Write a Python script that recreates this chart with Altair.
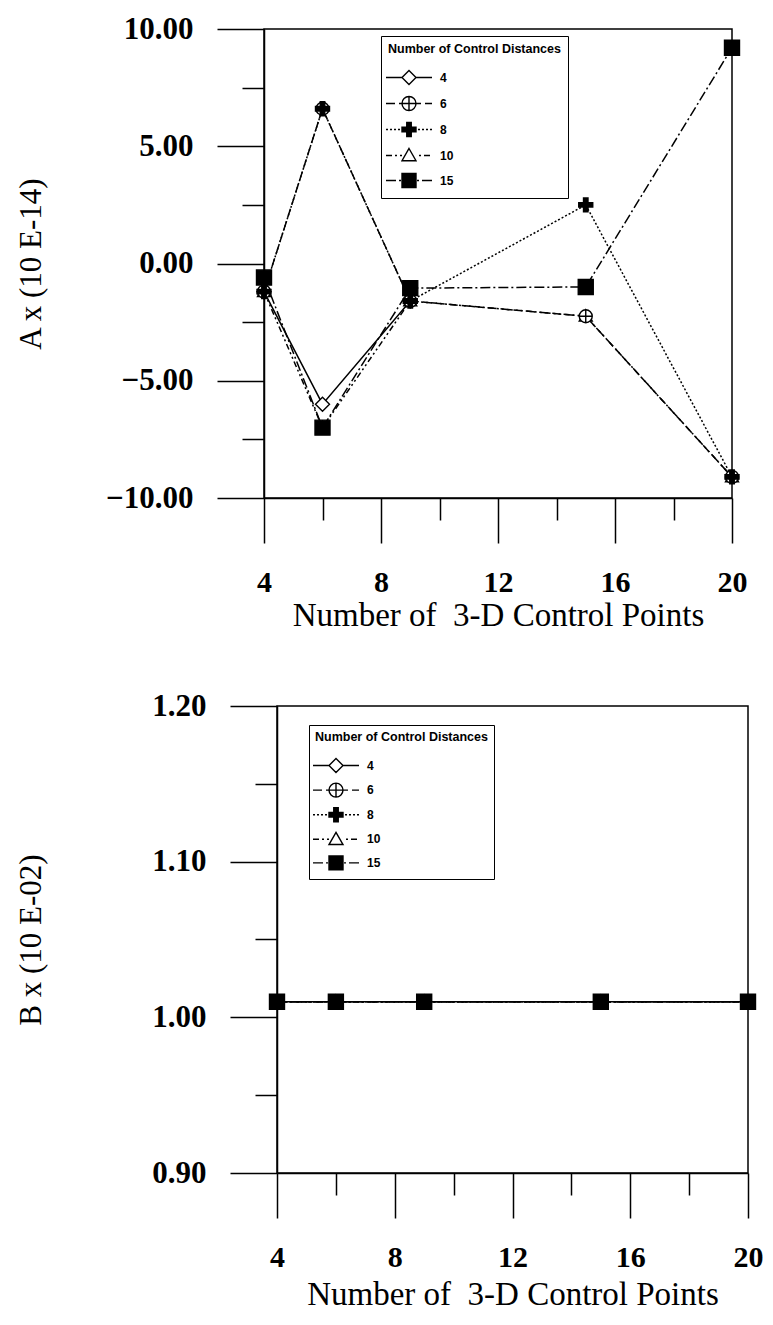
import altair as alt
import pandas as pd

# Number of 3-D control points used for each estimate
control_points = [4, 6, 9, 15, 20]

# Number of control distances: one series each
distance_sets = ["4", "6", "8", "10", "15"]

# Coefficient A (x 10E-14); None where no estimate is plotted
a_dist_4 = [-1.2, -6.0, -1.6, None, None]
a_dist_6 = [-1.2, 6.6, -1.6, -2.25, -9.1]
a_dist_8 = [-1.2, 6.6, -1.6, 2.5, -9.1]
a_dist_10 = [-1.2, -7.0, -1.6, -2.25, -9.1]
a_dist_15 = [-0.6, -7.0, -1.05, -1.0, 9.2]

# Coefficient B (x 10E-02)
b_dist_4 = [1.01, 1.01, 1.01, 1.01, 1.01]
b_dist_6 = [1.01, 1.01, 1.01, 1.01, 1.01]
b_dist_8 = [1.01, 1.01, 1.01, 1.01, 1.01]
b_dist_10 = [1.01, 1.01, 1.01, 1.01, 1.01]
b_dist_15 = [1.01, 1.01, 1.01, 1.01, 1.01]

# Axis ticks
x_ticks = [4, 6, 8, 10, 12, 14, 16, 18, 20]
a_ticks = [-10.0, -7.5, -5.0, -2.5, 0.0, 2.5, 5.0, 7.5, 10.0]
b_ticks = [0.90, 0.95, 1.00, 1.05, 1.10, 1.15, 1.20]

LEGEND_TITLE = "Number of Control Distances"
X_TITLE = "Number of\u00a0 3-D Control Points"


def long_table(columns):
    rows = []
    for name, values in zip(distance_sets, columns):
        for x, v in zip(control_points, values):
            if v is not None:
                rows.append({"points": x, "value": v, "distances": name})
    return pd.DataFrame(rows)


a_table = long_table([a_dist_4, a_dist_6, a_dist_8, a_dist_10, a_dist_15])
b_table = long_table([b_dist_4, b_dist_6, b_dist_8, b_dist_10, b_dist_15])

# ---- marker and line styles -------------------------------------------
DIAMOND = "M0,-1L1,0L0,1L-1,0Z"
CIRCLE_CROSS = "M1,0A1,1,0,1,1,-1,0A1,1,0,1,1,1,0Z M-1,0H1 M0,-1V1"
PLUS = "M-0.32,-1H0.32V-0.32H1V0.32H0.32V1H-0.32V0.32H-1V-0.32H-0.32Z"
TRIANGLE = "M0,-1L1,0.75L-1,0.75Z"
SQUARE = "M-1,-1H1V1H-1Z"

MARKER = {"4": DIAMOND, "6": CIRCLE_CROSS, "8": PLUS, "10": TRIANGLE, "15": SQUARE}
FILL = {"4": "white", "6": "white", "8": "black", "10": "white", "15": "black"}
SIZE = {"4": 196, "6": 169, "8": 196, "10": 169, "15": 225}
DASH = {"4": None, "6": [9, 4], "8": [2, 2], "10": [6, 3, 2, 3, 2, 3], "15": [10, 3, 2, 3]}
DRAW_ORDER = ["10", "4", "6", "8", "15"]


def legend_symbol(name, unit=7.0, half_len=23.0):
    """Marker path with a short (dashed) line through it, in marker units."""
    pattern = DASH[name] or [2 * half_len]
    parts = []
    pos, i = -half_len, 0
    while pos < half_len:
        seg = pattern[i % len(pattern)]
        if i % 2 == 0:
            a, b = pos, min(pos + seg, half_len)
            for lo, hi in ((a, min(b, -unit)), (max(a, unit), b)):
                if hi - lo > 0.3:
                    parts.append(f"M{lo / unit:.3f},0H{hi / unit:.3f}")
        pos += seg
        i += 1
    return " ".join(parts) + " " + MARKER[name]


LEGEND_PATHS = [legend_symbol(n) for n in distance_sets]
LEGEND_FILLS = [FILL[n] for n in distance_sets]
LEGEND_STROKES = ["black" for _ in distance_sets]

SERIF = "Liberation Serif"
SANS = "Liberation Sans"
KEY_CHANNELS = dict(shape="independent", fill="independent", stroke="independent")


def panel(table, y_title, y_ticks, y_major, title_x, x_shift,
          legend_x, legend_y, legend_pad, legend_rows, width, height, x_title_y):
    y_domain = [y_ticks[0], y_ticks[-1]]
    x_scale = alt.Scale(domain=[x_ticks[0], x_ticks[-1]], range=[x_shift, x_shift + width],
                        nice=False, zero=False)
    y_scale = alt.Scale(domain=y_domain, nice=False, zero=False)
    x_axis = alt.Axis(
        values=x_ticks,
        title=X_TITLE,
        labelExpr="datum.value % 4 == 0 ? datum.label : ''",
        tickSize={"condition": {"test": "datum.value % 4 == 0", "value": 45}, "value": 22},
        labelPadding=24,
        labelFontSize=30,
        labelFlush=False,
        labelOverlap=False,
        titleFontSize=33,
        titleY=x_title_y,
        titleBaseline="middle",
    )
    y_axis = alt.Axis(
        values=y_ticks,
        format=".2f",
        title=y_title,
        labelExpr=f"{y_major} ? datum.label : ''",
        tickSize={"condition": {"test": y_major, "value": 47}, "value": 22},
        labelPadding=24,
        labelFontSize=31,
        labelFlush=False,
        labelOverlap=False,
        titleFontSize=31,
        titleX=title_x,
        titleBaseline="middle",
        offset=-x_shift,
    )

    def xq(field):
        return alt.X(f"{field}:Q", scale=x_scale, axis=x_axis)

    def yq(field):
        return alt.Y(f"{field}:Q", scale=y_scale, axis=y_axis)

    # plot frame spanning the full axis extents
    frame_table = pd.DataFrame({"x0": [x_ticks[0]], "x1": [x_ticks[-1]],
                                "y0": [y_domain[0]], "y1": [y_domain[1]]})
    layers = [
        alt.Chart(frame_table)
        .mark_rect(fillOpacity=0, stroke="black", strokeWidth=1.5)
        .encode(x=xq("x0"), x2="x1", y=yq("y0"), y2="y1")
    ]
    for name in DRAW_ORDER:
        kwargs = dict(color="black", strokeWidth=1.5)
        if DASH[name]:
            kwargs["strokeDash"] = DASH[name]
        layers.append(
            alt.Chart(table)
            .transform_filter(alt.datum.distances == name)
            .mark_line(**kwargs)
            .encode(x=xq("points"), y=yq("value"))
        )
    for name in DRAW_ORDER:
        layers.append(
            alt.Chart(table)
            .transform_filter(alt.datum.distances == name)
            .mark_point(shape=MARKER[name], filled=True, fill=FILL[name],
                        stroke="black", strokeWidth=1.4, size=SIZE[name], opacity=1)
            .encode(x=xq("points"), y=yq("value"))
        )

    legend = alt.Legend(
        title=LEGEND_TITLE,
        orient="none",
        legendX=legend_x,
        legendY=legend_y,
        direction="vertical",
        strokeColor="black",
        padding=legend_pad,
        titleFont=SANS,
        titleFontSize=12.5,
        titleFontWeight="bold",
        titleColor="black",
        titlePadding=14,
        labelFont=SANS,
        labelFontSize=12,
        labelFontWeight="bold",
        labelColor="black",
        symbolSize=196,
        symbolStrokeWidth=1.4,
        symbolStrokeColor="black",
        symbolOffset=13,
        labelOffset=23,
        rowPadding=legend_rows,
    )
    key_scale = dict(domain=distance_sets)
    key_layer = (
        alt.Chart(pd.DataFrame({"distances": distance_sets}))
        .transform_filter("false")
        .mark_point(filled=True, opacity=1, strokeWidth=1.4)
        .encode(
            shape=alt.Shape("distances:N",
                            scale=alt.Scale(range=LEGEND_PATHS, **key_scale),
                            legend=legend),
            fill=alt.Fill("distances:N",
                          scale=alt.Scale(range=LEGEND_FILLS, **key_scale),
                          legend=legend),
            stroke=alt.Stroke("distances:N",
                              scale=alt.Scale(range=LEGEND_STROKES, **key_scale),
                              legend=legend),
        )
    )
    return alt.layer(*layers, key_layer).properties(width=x_shift + width, height=height)


top = panel(a_table, "A x (10 E-14)", a_ticks,
            "round(datum.value / 2.5) % 2 == 0", -233, 0,
            117, 7, 7, 6, 468, 469, 117)
bottom = panel(b_table, "B x (10 E-02)", b_ticks,
               "round(datum.value * 20) % 2 == 0", -246, 13,
               45, 19, 6, 4.6, 471, 467, 121)

chart = (
    alt.vconcat(top, bottom, spacing=58)
    .resolve_scale(x="independent", y="independent", **KEY_CHANNELS)
    .resolve_legend(**KEY_CHANNELS)
    .properties(padding={"left": 14, "top": 13, "right": 5, "bottom": 5}, background="white")
    .configure_view(stroke=None)
    .configure_axis(
        domainColor="black", domainWidth=1.5, tickColor="black", tickWidth=1.5,
        labelColor="black", titleColor="black", grid=False,
        labelFont=SERIF, labelFontWeight="bold", titleFont=SERIF, titleFontWeight="normal",
    )
)

chart.save("out.html", embed_options={"renderer": "svg", "actions": False})
